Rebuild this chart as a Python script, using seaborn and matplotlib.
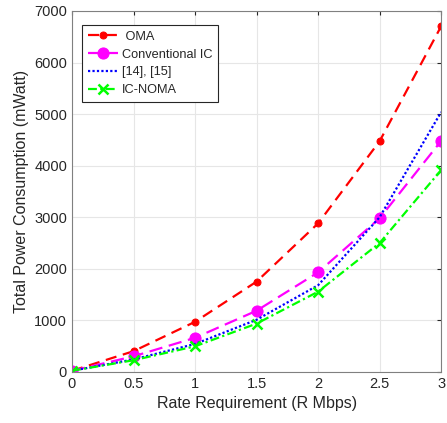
import matplotlib
matplotlib.use("Agg")
import matplotlib.pyplot as plt
import pandas as pd
import seaborn as sns

rate = [0, 0.5, 1, 1.5, 2, 2.5, 3]
oma = [20, 400, 970, 1750, 2880, 4475, 6705]
conv_ic = [20, 300, 660, 1185, 1930, 2980, 4480]
ref_14_15 = [20, 240, 540, 1010, 1680, 3000, 5040]
ic_noma = [20, 225, 495, 935, 1555, 2500, 3915]

series = {
    " OMA": oma,
    "Conventional IC": conv_ic,
    "[14], [15]": ref_14_15,
    "IC-NOMA": ic_noma,
}


def main():
    sns.set_style("whitegrid")
    plt.rcParams["font.family"] = ["Liberation Sans", "DejaVu Sans"]

    fig = plt.figure(figsize=(4.47, 4.23), dpi=100)
    ax = fig.add_axes([0.161, 0.121, 0.826, 0.853])

    styles = {
        " OMA": dict(color="#ff0000", linestyle=(0, (5, 3)), marker="o", markersize=5),
        "Conventional IC": dict(color="#ff00ff", linestyle=(0, (6, 3)), marker="o", markersize=8),
        "[14], [15]": dict(color="#0000ff", linestyle=(0, (1, 1)), marker=None),
        "IC-NOMA": dict(color="#00ff00", linestyle=(0, (4, 1.5, 1, 1.5)), marker="x",
                        markersize=7, markeredgewidth=1.8),
    }
    for name, vals in series.items():
        df = pd.DataFrame({"rate": rate, "power": vals})
        sns.lineplot(data=df, x="rate", y="power", ax=ax, label=name, linewidth=1.6,
                     markeredgecolor=styles[name]["color"], **styles[name])

    ax.set_xlim(0, 3)
    ax.set_ylim(0, 7000)
    ax.set_xticks([0, 0.5, 1, 1.5, 2, 2.5, 3])
    ax.set_xticklabels(["0", "0.5", "1", "1.5", "2", "2.5", "3"])
    ax.set_yticks(range(0, 7001, 1000))
    ax.set_xlabel("Rate Requirement (R Mbps)", fontsize=11.5, color="#262626")
    ax.set_ylabel("Total Power Consumption (mWatt)", fontsize=11.5, color="#262626")
    ax.tick_params(labelsize=10.5, colors="#262626", length=3, direction="in",
                   top=True, right=True)
    ax.grid(True, color="#e6e6e6", linewidth=0.8)
    for sp in ax.spines.values():
        sp.set_color("#808080")
        sp.set_linewidth(0.8)

    leg = ax.legend(loc="upper left", bbox_to_anchor=(0.027, 0.961), fontsize=9.2,
                    frameon=True, fancybox=False, edgecolor="#262626", framealpha=1,
                    handlelength=2.4, borderpad=0.45, labelspacing=0.45, handletextpad=0.25,
                    borderaxespad=0)
    leg.get_frame().set_linewidth(0.8)

    fig.savefig("out.png", dpi=100)


if __name__ == "__main__":
    main()
